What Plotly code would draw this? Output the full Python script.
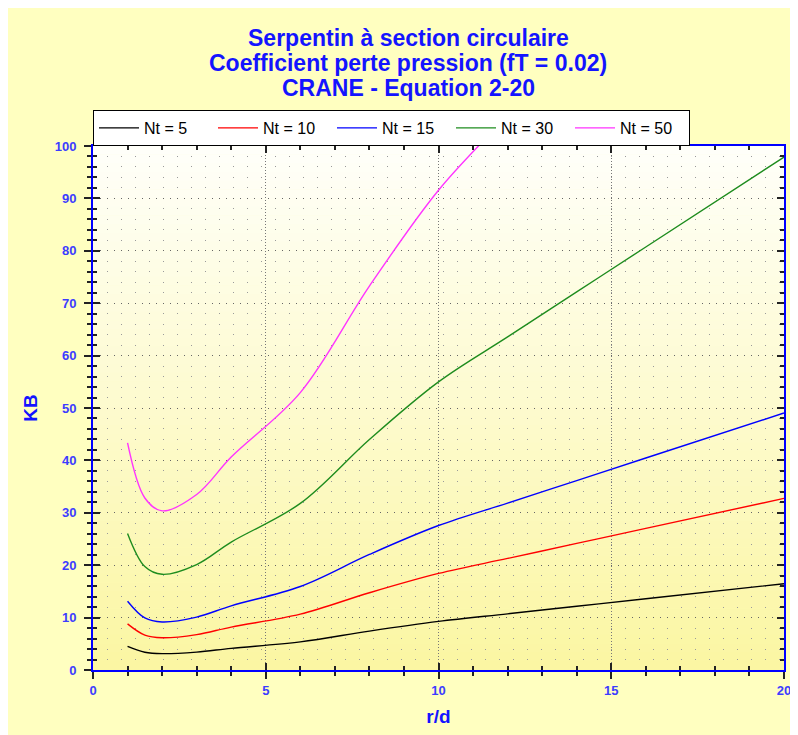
import plotly.graph_objects as go

# ---- data ----
r_d = [1, 1.5, 2, 3, 4, 6, 8, 10, 12, 14, 16, 20]
kb_nt5 = [4.50, 3.39, 3.12, 3.42, 4.13, 5.36, 7.43, 9.28, 10.72, 12.16, 13.60, 16.47]
kb_nt10 = [8.81, 6.66, 6.15, 6.76, 8.19, 10.65, 14.74, 18.43, 21.29, 24.16, 27.02, 32.75]
kb_nt15 = [13.13, 9.93, 9.17, 10.10, 12.25, 15.93, 22.05, 27.57, 31.86, 36.15, 40.45, 49.04]
kb_nt30 = [26.07, 19.74, 18.26, 20.13, 24.42, 31.79, 43.99, 54.99, 63.57, 72.15, 80.73, 97.88]
kb_nt50 = [43.33, 32.83, 30.37, 33.50, 40.64, 52.93, 73.25, 91.56, 105.85, 120.14, 134.43, 163.02]

series_names = ["Nt = 5", "Nt = 10", "Nt = 15", "Nt = 30", "Nt = 50"]
series_values = [kb_nt5, kb_nt10, kb_nt15, kb_nt30, kb_nt50]
series_colors = ["#000000", "#FF0000", "#0000FF", "#1E8C1E", "#FF33FF"]

title_lines = ["Serpentin à section circulaire",
               "Coefficient perte pression (fT = 0.02)",
               "CRANE - Equation 2-20"]

# page has an 8px body margin, so the figure is laid out 8px in from the corner
W, H = 790, 727
ML, MR, MT, MB = 85, 14, 138, 65
PW, PH = W - ML - MR, H - MT - MB

FONT = "Liberation Sans, Arial, sans-serif"
TITLE_BLUE = "#1414FF"
TICK_BLUE = "#3C3CFF"

fig = go.Figure()
for name, vals, col in zip(series_names, series_values, series_colors):
    fig.add_trace(go.Scatter(x=r_d, y=vals, name=name, mode="lines",
                             line=dict(color=col, width=1.4, shape="spline", smoothing=1.0)))

# empty trace to register the overlay axes used for inside ticks
fig.add_trace(go.Scatter(x=[], y=[], xaxis="x2", yaxis="y2", showlegend=False, hoverinfo="skip"))

shapes = []
# plot background gradient (white top -> yellow bottom)
n_bands = 60
top = (255, 255, 250)
bot = (251, 246, 162)
for i in range(n_bands):
    t = (i + 0.5) / n_bands
    c = tuple(round(top[k] + (bot[k] - top[k]) * t) for k in range(3))
    shapes.append(dict(type="rect", xref="paper", yref="paper", x0=0, x1=1,
                       y0=1 - (i + 1) / n_bands, y1=1 - i / n_bands + 0.001,
                       fillcolor="rgb(%d,%d,%d)" % c, line=dict(width=0), layer="below"))

annotations = []
for i, line in enumerate(title_lines):
    ypx = 30 + 25 * i
    annotations.append(dict(text=line, xref="paper", yref="paper",
                            x=(400 - ML) / PW, y=1 + (MT - ypx) / PH,
                            xanchor="center", yanchor="middle", showarrow=False,
                            font=dict(family=FONT, size=23, color=TITLE_BLUE, weight="bold")))

axis_common = dict(showline=True, linecolor="#0000FF", linewidth=2, mirror=True,
                   tickcolor="#222222", tickwidth=1.5, zeroline=False, automargin=False,
                   tickfont=dict(family=FONT, size=13, color=TICK_BLUE, weight="bold"))

fig.update_layout(
    width=W, height=H,
    margin=dict(l=ML, r=MR, t=MT, b=MB, autoexpand=False),
    paper_bgcolor="#FFFFC0",
    plot_bgcolor="rgba(0,0,0,0)",
    font=dict(family=FONT),
    shapes=shapes,
    annotations=annotations,
    showlegend=True,
    legend=dict(orientation="h", x=0, xanchor="left", y=1 + (MT - 120) / PH, yanchor="middle",
                bgcolor="white", bordercolor="black", borderwidth=1,
                font=dict(family=FONT, size=16, color="black"),
                entrywidth=64, itemwidth=40, tracegroupgap=0),
    xaxis=dict(range=[0, 20], tick0=0, dtick=5, ticks="outside", ticklen=7,
               ticklabelstandoff=0,
               showgrid=True, gridcolor="#777777", gridwidth=1, griddash="1px,2px",
               minor=dict(dtick=1, ticks="outside", ticklen=4, tickcolor="#222222",
                          showgrid=False),
               title=dict(text="r/d", standoff=13,
                          font=dict(family=FONT, size=19, color=TITLE_BLUE, weight="bold")),
               **axis_common),
    yaxis=dict(range=[0, 100], tick0=0, dtick=10, ticks="outside", ticklen=7,
               ticklabelstandoff=5,
               showgrid=True, gridcolor="#666666", gridwidth=1, griddash="1px,6px",
               minor=dict(dtick=2, ticks="outside", ticklen=4, tickcolor="#222222",
                          showgrid=True, gridcolor="#9a9a9a", gridwidth=1, griddash="1px,13px"),
               title=dict(text="KB", standoff=12,
                          font=dict(family=FONT, size=19, color=TITLE_BLUE, weight="bold")),
               **axis_common),
    xaxis2=dict(range=[0, 20], overlaying="x", anchor="y2", tick0=0, dtick=5,
                ticks="inside", ticklen=7, tickcolor="#222222", tickwidth=1.5,
                minor=dict(dtick=1, ticks="inside", ticklen=4, tickcolor="#222222"),
                mirror="allticks", showline=False, showgrid=False, zeroline=False,
                showticklabels=False, automargin=False),
    yaxis2=dict(range=[0, 100], overlaying="y", anchor="x2", tick0=0, dtick=10,
                ticks="inside", ticklen=7, tickcolor="#222222", tickwidth=1.5,
                minor=dict(dtick=2, ticks="inside", ticklen=4, tickcolor="#222222"),
                mirror="allticks", showline=False, showgrid=False, zeroline=False,
                showticklabels=False, automargin=False),
)

fig.write_html("out.html")
